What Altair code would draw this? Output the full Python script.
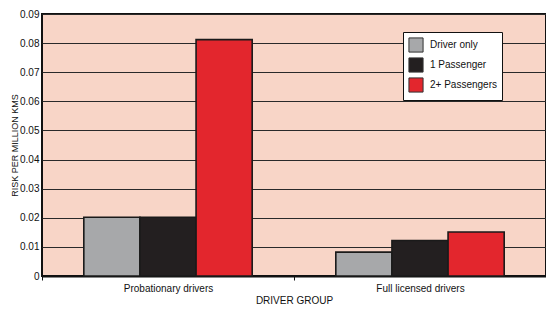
import altair as alt
import pandas as pd

groups = ["Probationary drivers", "Probationary drivers", "Probationary drivers",
          "Full licensed drivers", "Full licensed drivers", "Full licensed drivers"]
series = ["Driver only", "1 Passenger", "2+ Passengers",
          "Driver only", "1 Passenger", "2+ Passengers"]
values = [0.0202, 0.0202, 0.0812, 0.0082, 0.0122, 0.0151]

group_order = ["Probationary drivers", "Full licensed drivers"]
series_order = ["Driver only", "1 Passenger", "2+ Passengers"]
colors = ["#a7a8aa", "#231f20", "#e3262d"]

df = pd.DataFrame({"group": groups, "series": series, "value": values})

FONT = "Liberation Sans"

chart = alt.Chart(df).mark_bar(stroke="#1a1a1a", strokeWidth=1.6).encode(
    x=alt.X("group:N", sort=group_order, title="DRIVER GROUP",
            scale=alt.Scale(paddingInner=0, paddingOuter=0),
            axis=alt.Axis(labelAngle=0, tickBand="extent", tickSize=4,
                          domainColor="#111", domainWidth=2, tickColor="#111",
                          labelFont=FONT, labelFontSize=10, labelColor="#111",
                          labelPadding=3, titleFont=FONT, titleFontSize=10,
                          titleFontWeight="normal", titleColor="#111", titleY=19)),
    xOffset=alt.XOffset("series:N", sort=series_order,
                        scale=alt.Scale(paddingInner=0, paddingOuter=0.745)),
    y=alt.Y("value:Q", title="RISK PER MILLION KMS",
            scale=alt.Scale(domain=[0, 0.09], nice=False),
            axis=alt.Axis(values=[0, 0.01, 0.02, 0.03, 0.04, 0.05, 0.06, 0.07, 0.08, 0.09],
                          labelExpr="datum.value == 0 ? '0' : format(datum.value, '.2f')",
                          ticks=False, domain=False, grid=True, gridColor="#2a2a2a",
                          gridWidth=1, labelFont=FONT, labelFontSize=10, labelColor="#111",
                          labelPadding=3, titleFont=FONT, titleFontSize=9,
                          titleFontWeight="normal", titleColor="#111", titlePadding=0)),
    color=alt.Color("series:N", sort=series_order, title=None,
                    scale=alt.Scale(domain=series_order, range=colors),
                    legend=alt.Legend(orient="none", legendX=361, legendY=18,
                                      fillColor="white", strokeColor="#111",
                                      padding=5, symbolType="square", symbolSize=200,
                                      symbolStrokeColor="#333", symbolStrokeWidth=1,
                                      symbolOpacity=1, rowPadding=0,
                                      labelFont=FONT, labelFontSize=10, labelColor="#111",
                                      labelOffset=6)),
).properties(
    width=504, height=262,
    autosize=alt.AutoSizeParams(type="none"),
    padding={"left": 34, "top": 6, "right": 0, "bottom": 28},
).configure_view(
    fill="#f8d5c7", stroke="#111", strokeWidth=2
)

chart.save("out.html", embed_options={"renderer": "svg", "actions": False})
